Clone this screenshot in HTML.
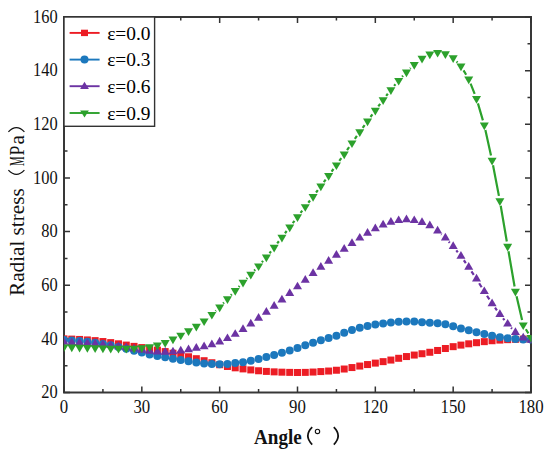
<!DOCTYPE html>
<html><head><meta charset="utf-8"><style>
html,body{margin:0;padding:0;background:#fff;}
body{width:550px;height:456px;overflow:hidden;}
svg{display:block;font-family:"Liberation Serif",serif;}
</style></head><body>
<svg width="550" height="456" viewBox="0 0 550 456">
<rect width="550" height="456" fill="#fff"/>
<defs><clipPath id="pc"><rect x="64.0" y="17.0" width="467.6" height="375.5"/></clipPath></defs>
<rect x="64.0" y="17.0" width="467.0" height="375.5" fill="none" stroke="#383838" stroke-width="2"/>
<path d="M64.00 392.5v-6M64.00 17.0v6M102.92 392.5v-3.5M102.92 17.0v3.5M141.83 392.5v-6M141.83 17.0v6M180.75 392.5v-3.5M180.75 17.0v3.5M219.67 392.5v-6M219.67 17.0v6M258.58 392.5v-3.5M258.58 17.0v3.5M297.50 392.5v-6M297.50 17.0v6M336.42 392.5v-3.5M336.42 17.0v3.5M375.33 392.5v-6M375.33 17.0v6M414.25 392.5v-3.5M414.25 17.0v3.5M453.17 392.5v-6M453.17 17.0v6M492.08 392.5v-3.5M492.08 17.0v3.5M531.00 392.5v-6M531.00 17.0v6M64.0 392.50h6M531.0 392.50h-6M64.0 365.68h3.5M531.0 365.68h-3.5M64.0 338.86h6M531.0 338.86h-6M64.0 312.04h3.5M531.0 312.04h-3.5M64.0 285.21h6M531.0 285.21h-6M64.0 258.39h3.5M531.0 258.39h-3.5M64.0 231.57h6M531.0 231.57h-6M64.0 204.75h3.5M531.0 204.75h-3.5M64.0 177.93h6M531.0 177.93h-6M64.0 151.11h3.5M531.0 151.11h-3.5M64.0 124.29h6M531.0 124.29h-6M64.0 97.46h3.5M531.0 97.46h-3.5M64.0 70.64h6M531.0 70.64h-6M64.0 43.82h3.5M531.0 43.82h-3.5M64.0 17.00h6M531.0 17.00h-6" stroke="#333" stroke-width="1.5" fill="none"/>
<g clip-path="url(#pc)">
<path d="" fill="none" stroke="#ec1c24" stroke-width="2.2"/>
<g fill="#ec1c24"><rect x="60.50" y="335.36" width="7" height="7"/><rect x="68.28" y="335.61" width="7" height="7"/><rect x="76.07" y="335.94" width="7" height="7"/><rect x="83.85" y="336.43" width="7" height="7"/><rect x="91.63" y="337.13" width="7" height="7"/><rect x="99.42" y="338.04" width="7" height="7"/><rect x="107.20" y="339.11" width="7" height="7"/><rect x="114.98" y="340.32" width="7" height="7"/><rect x="122.77" y="341.60" width="7" height="7"/><rect x="130.55" y="342.87" width="7" height="7"/><rect x="138.33" y="344.08" width="7" height="7"/><rect x="146.12" y="345.31" width="7" height="7"/><rect x="153.90" y="346.62" width="7" height="7"/><rect x="161.68" y="348.09" width="7" height="7"/><rect x="169.47" y="349.71" width="7" height="7"/><rect x="177.25" y="351.45" width="7" height="7"/><rect x="185.03" y="353.29" width="7" height="7"/><rect x="192.82" y="355.20" width="7" height="7"/><rect x="200.60" y="357.20" width="7" height="7"/><rect x="208.38" y="359.23" width="7" height="7"/><rect x="216.17" y="361.23" width="7" height="7"/><rect x="223.95" y="362.98" width="7" height="7"/><rect x="231.73" y="364.32" width="7" height="7"/><rect x="239.52" y="365.40" width="7" height="7"/><rect x="247.30" y="366.41" width="7" height="7"/><rect x="255.08" y="367.27" width="7" height="7"/><rect x="262.87" y="367.91" width="7" height="7"/><rect x="270.65" y="368.35" width="7" height="7"/><rect x="278.43" y="368.67" width="7" height="7"/><rect x="286.22" y="368.88" width="7" height="7"/><rect x="294.00" y="368.98" width="7" height="7"/><rect x="301.78" y="368.88" width="7" height="7"/><rect x="309.57" y="368.55" width="7" height="7"/><rect x="317.35" y="368.08" width="7" height="7"/><rect x="325.13" y="367.54" width="7" height="7"/><rect x="332.92" y="366.74" width="7" height="7"/><rect x="340.70" y="365.52" width="7" height="7"/><rect x="348.48" y="364.06" width="7" height="7"/><rect x="356.27" y="362.55" width="7" height="7"/><rect x="364.05" y="361.06" width="7" height="7"/><rect x="371.83" y="359.61" width="7" height="7"/><rect x="379.62" y="358.14" width="7" height="7"/><rect x="387.40" y="356.55" width="7" height="7"/><rect x="395.18" y="354.79" width="7" height="7"/><rect x="402.97" y="353.05" width="7" height="7"/><rect x="410.75" y="351.56" width="7" height="7"/><rect x="418.53" y="350.23" width="7" height="7"/><rect x="426.32" y="348.77" width="7" height="7"/><rect x="434.10" y="346.97" width="7" height="7"/><rect x="441.88" y="345.01" width="7" height="7"/><rect x="449.67" y="343.16" width="7" height="7"/><rect x="457.45" y="341.60" width="7" height="7"/><rect x="465.23" y="340.32" width="7" height="7"/><rect x="473.02" y="339.20" width="7" height="7"/><rect x="480.80" y="338.15" width="7" height="7"/><rect x="488.58" y="337.23" width="7" height="7"/><rect x="496.37" y="336.59" width="7" height="7"/><rect x="504.15" y="336.16" width="7" height="7"/><rect x="511.93" y="335.84" width="7" height="7"/><rect x="519.72" y="335.58" width="7" height="7"/><rect x="527.50" y="335.36" width="7" height="7"/></g>
<path d="" fill="none" stroke="#1c78bd" stroke-width="2.2"/>
<g fill="#1c78bd"><circle cx="64.00" cy="339.93" r="4"/><circle cx="71.78" cy="340.46" r="4"/><circle cx="79.57" cy="341.07" r="4"/><circle cx="87.35" cy="341.81" r="4"/><circle cx="95.13" cy="342.74" r="4"/><circle cx="102.92" cy="343.90" r="4"/><circle cx="110.70" cy="345.29" r="4"/><circle cx="118.48" cy="346.92" r="4"/><circle cx="126.27" cy="348.74" r="4"/><circle cx="134.05" cy="350.66" r="4"/><circle cx="141.83" cy="352.60" r="4"/><circle cx="149.62" cy="354.41" r="4"/><circle cx="157.40" cy="355.97" r="4"/><circle cx="165.18" cy="357.36" r="4"/><circle cx="172.97" cy="358.72" r="4"/><circle cx="180.75" cy="360.05" r="4"/><circle cx="188.53" cy="361.31" r="4"/><circle cx="196.32" cy="362.46" r="4"/><circle cx="204.10" cy="363.41" r="4"/><circle cx="211.88" cy="364.07" r="4"/><circle cx="219.67" cy="364.34" r="4"/><circle cx="227.45" cy="364.07" r="4"/><circle cx="235.23" cy="363.00" r="4"/><circle cx="243.02" cy="362.19" r="4"/><circle cx="250.80" cy="360.83" r="4"/><circle cx="258.58" cy="358.97" r="4"/><circle cx="266.37" cy="357.01" r="4"/><circle cx="274.15" cy="354.95" r="4"/><circle cx="281.93" cy="352.75" r="4"/><circle cx="289.72" cy="350.39" r="4"/><circle cx="297.50" cy="347.90" r="4"/><circle cx="305.28" cy="345.29" r="4"/><circle cx="313.07" cy="342.66" r="4"/><circle cx="320.85" cy="340.20" r="4"/><circle cx="328.63" cy="338.01" r="4"/><circle cx="336.42" cy="335.64" r="4"/><circle cx="344.20" cy="332.74" r="4"/><circle cx="351.98" cy="329.93" r="4"/><circle cx="359.77" cy="327.70" r="4"/><circle cx="367.55" cy="325.95" r="4"/><circle cx="375.33" cy="324.55" r="4"/><circle cx="383.12" cy="323.41" r="4"/><circle cx="390.90" cy="322.50" r="4"/><circle cx="398.68" cy="321.79" r="4"/><circle cx="406.47" cy="321.43" r="4"/><circle cx="414.25" cy="321.58" r="4"/><circle cx="422.03" cy="322.13" r="4"/><circle cx="429.82" cy="322.76" r="4"/><circle cx="437.60" cy="323.36" r="4"/><circle cx="445.38" cy="324.37" r="4"/><circle cx="453.17" cy="326.22" r="4"/><circle cx="460.95" cy="328.40" r="4"/><circle cx="468.73" cy="330.36" r="4"/><circle cx="476.52" cy="332.15" r="4"/><circle cx="484.30" cy="333.93" r="4"/><circle cx="492.08" cy="335.64" r="4"/><circle cx="499.87" cy="337.14" r="4"/><circle cx="507.65" cy="338.32" r="4"/><circle cx="515.43" cy="339.07" r="4"/><circle cx="523.22" cy="339.39" r="4"/><circle cx="531.00" cy="339.39" r="4"/></g>
<path d="M441.30 234.25L441.68 234.59M448.76 241.64L449.79 242.75M456.29 250.34L457.83 252.28M463.85 260.26L465.83 263.02M471.47 271.28L473.78 274.80M479.15 283.24L481.66 287.27M487.00 295.73L489.39 299.45M495.00 307.72L496.95 310.42M503.02 318.35L504.50 320.17M511.06 327.70L512.02 328.72" fill="none" stroke="#6c33a3" stroke-width="2.2"/>
<g fill="#6c33a3"><path d="M64.00 337.15L68.50 344.85L59.50 344.85Z"/><path d="M71.78 337.44L76.28 345.14L67.28 345.14Z"/><path d="M79.57 337.77L84.07 345.47L75.07 345.47Z"/><path d="M87.35 338.19L91.85 345.89L82.85 345.89Z"/><path d="M95.13 338.76L99.63 346.46L90.63 346.46Z"/><path d="M102.92 339.51L107.42 347.21L98.42 347.21Z"/><path d="M110.70 340.41L115.20 348.11L106.20 348.11Z"/><path d="M118.48 341.44L122.98 349.14L113.98 349.14Z"/><path d="M126.27 342.58L130.77 350.28L121.77 350.28Z"/><path d="M134.05 343.76L138.55 351.46L129.55 351.46Z"/><path d="M141.83 344.93L146.33 352.63L137.33 352.63Z"/><path d="M149.62 346.01L154.12 353.71L145.12 353.71Z"/><path d="M157.40 346.81L161.90 354.51L152.90 354.51Z"/><path d="M165.18 347.08L169.68 354.78L160.68 354.78Z"/><path d="M172.97 346.67L177.47 354.37L168.47 354.37Z"/><path d="M180.75 345.74L185.25 353.44L176.25 353.44Z"/><path d="M188.53 344.48L193.03 352.18L184.03 352.18Z"/><path d="M196.32 343.05L200.82 350.75L191.82 350.75Z"/><path d="M204.10 341.52L208.60 349.22L199.60 349.22Z"/><path d="M211.88 339.57L216.38 347.27L207.38 347.27Z"/><path d="M219.67 336.87L224.17 344.57L215.17 344.57Z"/><path d="M227.45 333.40L231.95 341.10L222.95 341.10Z"/><path d="M235.23 329.17L239.73 336.87L230.73 336.87Z"/><path d="M243.02 324.28L247.52 331.98L238.52 331.98Z"/><path d="M250.80 318.83L255.30 326.53L246.30 326.53Z"/><path d="M258.58 313.01L263.08 320.71L254.08 320.71Z"/><path d="M266.37 307.03L270.87 314.73L261.87 314.73Z"/><path d="M274.15 300.94L278.65 308.64L269.65 308.64Z"/><path d="M281.93 294.75L286.43 302.45L277.43 302.45Z"/><path d="M289.72 288.34L294.22 296.04L285.22 296.04Z"/><path d="M297.50 281.66L302.00 289.36L293.00 289.36Z"/><path d="M305.28 274.93L309.78 282.63L300.78 282.63Z"/><path d="M313.07 268.37L317.57 276.07L308.57 276.07Z"/><path d="M320.85 262.05L325.35 269.75L316.35 269.75Z"/><path d="M328.63 255.98L333.13 263.68L324.13 263.68Z"/><path d="M336.42 249.98L340.92 257.68L331.92 257.68Z"/><path d="M344.20 243.97L348.70 251.67L339.70 251.67Z"/><path d="M351.98 238.18L356.48 245.88L347.48 245.88Z"/><path d="M359.77 232.88L364.27 240.58L355.27 240.58Z"/><path d="M367.55 227.99L372.05 235.69L363.05 235.69Z"/><path d="M375.33 223.45L379.83 231.15L370.83 231.15Z"/><path d="M383.12 219.68L387.62 227.38L378.62 227.38Z"/><path d="M390.90 217.06L395.40 224.76L386.40 224.76Z"/><path d="M398.68 215.38L403.18 223.08L394.18 223.08Z"/><path d="M406.47 214.58L410.97 222.28L401.97 222.28Z"/><path d="M414.25 215.38L418.75 223.08L409.75 223.08Z"/><path d="M422.03 217.22L426.53 224.92L417.53 224.92Z"/><path d="M429.82 220.48L434.32 228.18L425.32 228.18Z"/><path d="M437.60 225.75L442.10 233.45L433.10 233.45Z"/><path d="M445.38 232.82L449.88 240.52L440.88 240.52Z"/><path d="M453.17 241.30L457.67 249.00L448.67 249.00Z"/><path d="M460.95 251.06L465.45 258.76L456.45 258.76Z"/><path d="M468.73 261.96L473.23 269.66L464.23 269.66Z"/><path d="M476.52 273.85L481.02 281.55L472.02 281.55Z"/><path d="M484.30 286.39L488.80 294.09L479.80 294.09Z"/><path d="M492.08 298.53L496.58 306.23L487.58 306.23Z"/><path d="M499.87 309.34L504.37 317.04L495.37 317.04Z"/><path d="M507.65 318.91L512.15 326.61L503.15 326.61Z"/><path d="M515.43 327.24L519.93 334.94L510.93 334.94Z"/><path d="M523.22 332.86L527.72 340.56L518.72 340.56Z"/><path d="M531.00 335.01L535.50 342.71L526.50 342.71Z"/></g>
<path d="M215.49 311.00L216.06 310.46M223.14 303.40L223.98 302.53M230.87 295.28L231.81 294.28M238.68 287.01L239.57 286.06M246.47 278.82L247.35 277.89M254.22 270.63L255.17 269.61M261.88 262.21L263.07 260.87M269.50 253.21L271.02 251.32M277.19 243.45L278.89 241.23M284.96 233.29L286.69 231.03M292.75 223.08L294.46 220.85M300.54 212.91L302.24 210.69M308.31 202.75L310.04 200.47M316.06 192.49L317.85 190.10M323.82 182.08L325.66 179.59M331.59 171.54L333.46 168.99M339.33 160.89L341.28 158.18M347.06 150.02L349.12 147.08M354.85 138.88L356.90 135.95M362.69 127.79L364.63 125.09M370.50 117.00L372.38 114.43M378.30 106.37L380.15 103.87M386.17 95.89L387.85 93.71M394.11 85.91L395.47 84.29M402.08 76.79L403.07 75.71M410.06 68.57L410.65 68.00M456.58 61.48L457.53 62.49M463.54 70.42L466.15 74.74M470.58 83.66L474.67 93.95M477.92 103.39L482.89 120.35M485.38 130.03L491.00 155.40M493.03 165.19L498.92 195.87M500.71 205.71L506.81 241.45M508.50 251.31L514.58 286.51M516.56 296.31L522.09 320.10M525.84 329.22L528.37 333.32" fill="none" stroke="#2ca12c" stroke-width="2.2"/>
<g fill="#2ca12c"><path d="M64.00 352.09L68.50 344.39L59.50 344.39Z"/><path d="M71.78 352.24L76.28 344.54L67.28 344.54Z"/><path d="M79.57 352.41L84.07 344.71L75.07 344.71Z"/><path d="M87.35 352.63L91.85 344.93L82.85 344.93Z"/><path d="M95.13 352.91L99.63 345.21L90.63 345.21Z"/><path d="M102.92 353.20L107.42 345.50L98.42 345.50Z"/><path d="M110.70 353.44L115.20 345.74L106.20 345.74Z"/><path d="M118.48 353.57L122.98 345.87L113.98 345.87Z"/><path d="M126.27 353.57L130.77 345.87L121.77 345.87Z"/><path d="M134.05 353.39L138.55 345.69L129.55 345.69Z"/><path d="M141.83 352.90L146.33 345.20L137.33 345.20Z"/><path d="M149.62 351.91L154.12 344.21L145.12 344.21Z"/><path d="M157.40 350.22L161.90 342.52L152.90 342.52Z"/><path d="M165.18 347.66L169.68 339.96L160.68 339.96Z"/><path d="M172.97 344.32L177.47 336.62L168.47 336.62Z"/><path d="M180.75 340.35L185.25 332.65L176.25 332.65Z"/><path d="M188.53 336.00L193.03 328.30L184.03 328.30Z"/><path d="M196.32 331.40L200.82 323.70L191.82 323.70Z"/><path d="M204.10 326.08L208.60 318.38L199.60 318.38Z"/><path d="M211.88 319.59L216.38 311.89L207.38 311.89Z"/><path d="M219.67 312.13L224.17 304.43L215.17 304.43Z"/><path d="M227.45 304.06L231.95 296.36L222.95 296.36Z"/><path d="M235.23 295.77L239.73 288.07L230.73 288.07Z"/><path d="M243.02 287.57L247.52 279.87L238.52 279.87Z"/><path d="M250.80 279.41L255.30 271.71L246.30 271.71Z"/><path d="M258.58 271.10L263.08 263.40L254.08 263.40Z"/><path d="M266.37 262.24L270.87 254.54L261.87 254.54Z"/><path d="M274.15 252.56L278.65 244.86L269.65 244.86Z"/><path d="M281.93 242.39L286.43 234.69L277.43 234.69Z"/><path d="M289.72 232.18L294.22 224.48L285.22 224.48Z"/><path d="M297.50 222.01L302.00 214.31L293.00 214.31Z"/><path d="M305.28 211.86L309.78 204.16L300.78 204.16Z"/><path d="M313.07 201.63L317.57 193.93L308.57 193.93Z"/><path d="M320.85 191.23L325.35 183.53L316.35 183.53Z"/><path d="M328.63 180.71L333.13 173.01L324.13 173.01Z"/><path d="M336.42 170.09L340.92 162.39L331.92 162.39Z"/><path d="M344.20 159.25L348.70 151.55L339.70 151.55Z"/><path d="M351.98 148.11L356.48 140.41L347.48 140.41Z"/><path d="M359.77 136.99L364.27 129.29L355.27 129.29Z"/><path d="M367.55 126.16L372.05 118.46L363.05 118.46Z"/><path d="M375.33 115.53L379.83 107.83L370.83 107.83Z"/><path d="M383.12 104.98L387.62 97.28L378.62 97.28Z"/><path d="M390.90 94.88L395.40 87.18L386.40 87.18Z"/><path d="M398.68 85.60L403.18 77.90L394.18 77.90Z"/><path d="M406.47 77.17L410.97 69.47L401.97 69.47Z"/><path d="M414.25 69.66L418.75 61.96L409.75 61.96Z"/><path d="M422.03 63.50L426.53 55.80L417.53 55.80Z"/><path d="M429.82 59.24L434.32 51.54L425.32 51.54Z"/><path d="M437.60 57.60L442.10 49.90L433.10 49.90Z"/><path d="M445.38 58.94L449.88 51.24L440.88 51.24Z"/><path d="M453.17 62.96L457.67 55.26L448.67 55.26Z"/><path d="M460.95 71.27L465.45 63.57L456.45 63.57Z"/><path d="M468.73 84.15L473.23 76.45L464.23 76.45Z"/><path d="M476.52 103.73L481.02 96.03L472.02 96.03Z"/><path d="M484.30 130.28L488.80 122.58L479.80 122.58Z"/><path d="M492.08 165.42L496.58 157.72L487.58 157.72Z"/><path d="M499.87 205.92L504.37 198.22L495.37 198.22Z"/><path d="M507.65 251.51L512.15 243.81L503.15 243.81Z"/><path d="M515.43 296.57L519.93 288.87L510.93 288.87Z"/><path d="M523.22 330.10L527.72 322.40L518.72 322.40Z"/><path d="M531.00 342.71L535.50 335.01L526.50 335.01Z"/></g>
</g>
<rect x="64" y="17" width="90.6" height="109.3" fill="#fff" stroke="#333" stroke-width="1.4"/>
<line x1="69.6" y1="32.90" x2="99.6" y2="32.90" stroke="#ec1c24" stroke-width="1.9"/>
<rect x="81.0" y="29.70" width="7" height="6.4" fill="#ec1c24"/>
<text x="107.2" y="39.50" font-size="18.6" textLength="43.3" lengthAdjust="spacingAndGlyphs">ε=0.0</text>
<line x1="69.6" y1="59.60" x2="99.6" y2="59.60" stroke="#1c78bd" stroke-width="1.9"/>
<circle cx="84.5" cy="59.60" r="4" fill="#1c78bd"/>
<text x="107.2" y="66.20" font-size="18.6" textLength="43.3" lengthAdjust="spacingAndGlyphs">ε=0.3</text>
<line x1="69.6" y1="86.20" x2="99.6" y2="86.20" stroke="#6c33a3" stroke-width="1.9"/>
<path d="M84.5 81.80L88.9 88.90L80.1 88.90Z" fill="#6c33a3"/>
<text x="107.2" y="92.80" font-size="18.6" textLength="43.3" lengthAdjust="spacingAndGlyphs">ε=0.6</text>
<line x1="69.6" y1="113.00" x2="99.6" y2="113.00" stroke="#2ca12c" stroke-width="1.9"/>
<path d="M84.5 117.60L88.9 110.40L80.1 110.40Z" fill="#2ca12c"/>
<text x="107.2" y="119.60" font-size="18.6" textLength="43.3" lengthAdjust="spacingAndGlyphs">ε=0.9</text>
<g font-size="18.2" fill="#111">
<text x="64.00" y="412.8" text-anchor="middle" textLength="8.4" lengthAdjust="spacingAndGlyphs">0</text>
<text x="141.83" y="412.8" text-anchor="middle" textLength="16.8" lengthAdjust="spacingAndGlyphs">30</text>
<text x="219.67" y="412.8" text-anchor="middle" textLength="16.8" lengthAdjust="spacingAndGlyphs">60</text>
<text x="297.50" y="412.8" text-anchor="middle" textLength="16.8" lengthAdjust="spacingAndGlyphs">90</text>
<text x="375.33" y="412.8" text-anchor="middle" textLength="25.2" lengthAdjust="spacingAndGlyphs">120</text>
<text x="453.17" y="412.8" text-anchor="middle" textLength="25.2" lengthAdjust="spacingAndGlyphs">150</text>
<text x="531.00" y="412.8" text-anchor="middle" textLength="25.2" lengthAdjust="spacingAndGlyphs">180</text>
<text x="57.6" y="398.30" text-anchor="end" textLength="16.4" lengthAdjust="spacingAndGlyphs">20</text>
<text x="57.6" y="344.66" text-anchor="end" textLength="16.4" lengthAdjust="spacingAndGlyphs">40</text>
<text x="57.6" y="291.01" text-anchor="end" textLength="16.4" lengthAdjust="spacingAndGlyphs">60</text>
<text x="57.6" y="237.37" text-anchor="end" textLength="16.4" lengthAdjust="spacingAndGlyphs">80</text>
<text x="57.6" y="183.73" text-anchor="end" textLength="24.6" lengthAdjust="spacingAndGlyphs">100</text>
<text x="57.6" y="130.09" text-anchor="end" textLength="24.6" lengthAdjust="spacingAndGlyphs">120</text>
<text x="57.6" y="76.44" text-anchor="end" textLength="24.6" lengthAdjust="spacingAndGlyphs">140</text>
<text x="57.6" y="22.80" text-anchor="end" textLength="24.6" lengthAdjust="spacingAndGlyphs">160</text>
</g>
<g transform="translate(24.2,296) rotate(-90)" fill="#111">
<text x="0" y="0" font-size="21.2" textLength="107.7" lengthAdjust="spacingAndGlyphs">Radial stress</text>
<text x="129.9" y="0" font-size="21.2" textLength="9.6" lengthAdjust="spacingAndGlyphs">M</text>
<text x="140.4" y="0" font-size="21.2" textLength="9.8" lengthAdjust="spacingAndGlyphs">P</text>
<text x="151.4" y="0" font-size="21.2" textLength="9.4" lengthAdjust="spacingAndGlyphs">a</text>
<path d="M125.80 -15.80Q117.28 -7.80 125.80 0.20" fill="none" stroke="#111" stroke-width="1.2"/>
<path d="M164.20 -15.80Q172.72 -7.80 164.20 0.20" fill="none" stroke="#111" stroke-width="1.2"/>
</g>
<g fill="#111">
<text x="254.1" y="443.6" font-size="20" font-weight="bold" textLength="47.6" lengthAdjust="spacingAndGlyphs">Angle</text>
<path d="M312.20 427.20Q303.52 435.90 312.20 444.60" fill="none" stroke="#111" stroke-width="1.7"/>
<path d="M333.80 427.20Q342.48 435.90 333.80 444.60" fill="none" stroke="#111" stroke-width="1.7"/>
<circle cx="317.5" cy="431.4" r="2.2" fill="none" stroke="#111" stroke-width="1.1"/>
</g>
</svg>
</body></html>
